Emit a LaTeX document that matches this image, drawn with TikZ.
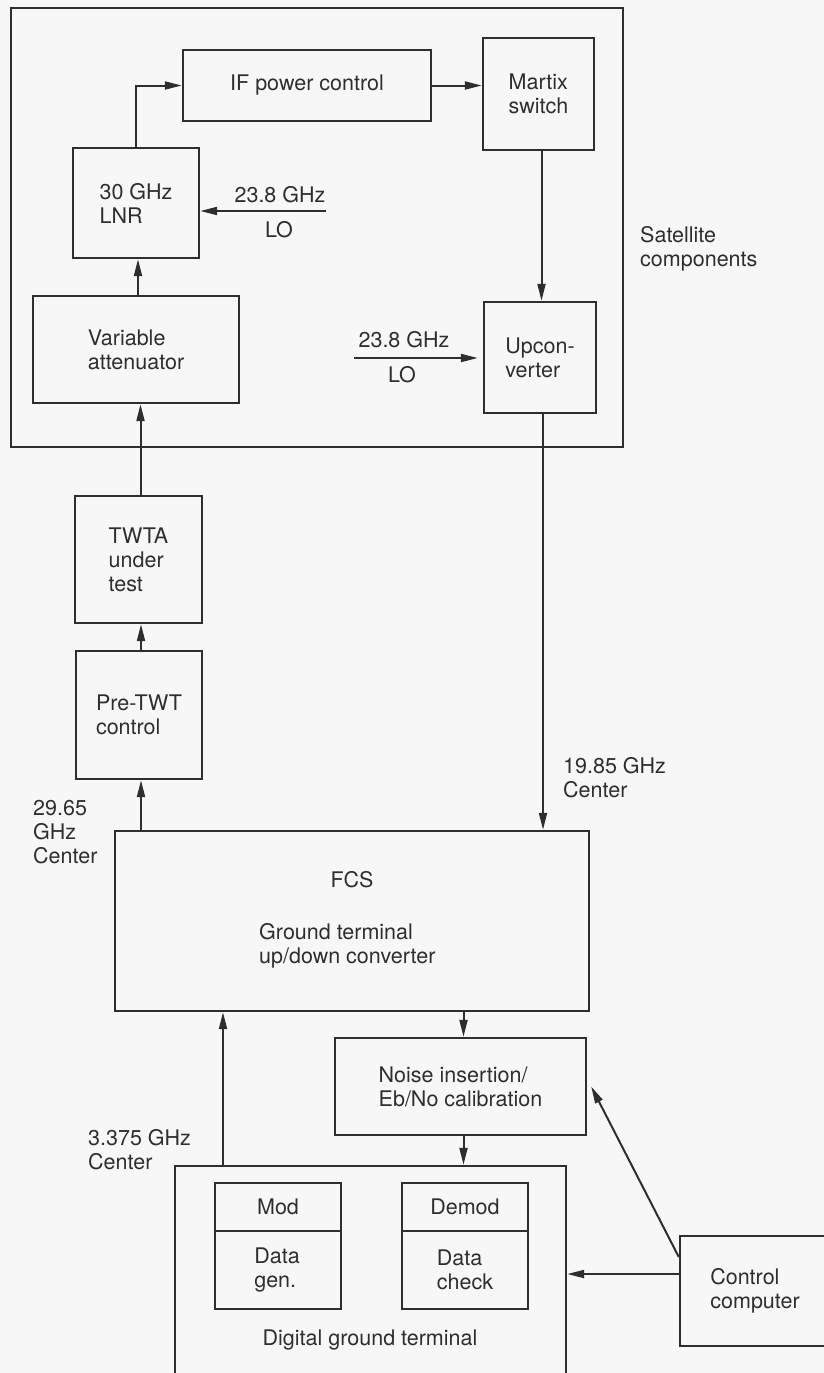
\documentclass[tikz,border=0pt]{standalone}
\usepackage{fontspec}
\setmainfont{TeX Gyre Heros}
\usepackage{tikz}
\usetikzlibrary{arrows.meta}
\definecolor{inkgray}{HTML}{2E2E2E}
\definecolor{pagebg}{HTML}{F7F7F7}
\tikzset{
  blockbox/.style={draw=inkgray,line width=2.4pt,align=left,inner sep=0pt},
  plainlabel/.style={text=inkgray,align=left,inner sep=0pt},
  sigarrow/.style={-{Triangle[length=17pt,width=8pt]},draw=inkgray,line width=2pt},
  sigline/.style={draw=inkgray,line width=2pt}
}
\begin{document}
\begin{tikzpicture}[x=1pt,y=-1pt,
  every node/.append style={font=\fontsize{21.5}{24}\selectfont,text=inkgray}]
  \fill[pagebg] (0,0) rectangle (824,1373);
  \useasboundingbox (0,0) rectangle (824,1373);
  % satellite part
  \node[blockbox,minimum width=612,minimum height=439] (sat) at (317,227.5) {};
  \node[blockbox,minimum width=248,minimum height=71] (ifpower) at (307,85.5) {IF power control};
  \node[blockbox,minimum width=111,minimum height=112] (matrixsw) at (538.5,94) {Martix\\switch};
  \node[blockbox,minimum width=126,minimum height=110] (lnr) at (136,203) {30 GHz\\LNR};
  \node[blockbox,minimum width=206,minimum height=107] (varatt) at (136,349.5) {Variable\\attenuator};
  \node[blockbox,minimum width=112,minimum height=111] (upconv) at (540,357.5) {Upcon-\\verter};
  \node[plainlabel,anchor=west] (satlabel) at (640,249) {Satellite\\components};
  % LO inputs
  \coordinate (loone) at (326,211);
  \coordinate (lotwo) at (354,358);
  \node[plainlabel] (loonef) at (280,195) {23.8 GHz};
  \node[plainlabel] (lonel) at (279,230) {LO};
  \node[plainlabel] (lotwof) at (404,340) {23.8 GHz};
  \node[plainlabel] (lotwol) at (402,375) {LO};
  % ground part
  \node[blockbox,minimum width=127,minimum height=127] (twta) at (138.5,559.5) {TWTA\\under\\test};
  \node[blockbox,minimum width=126,minimum height=128] (pretwt) at (139,715) {Pre-TWT\\control};
  \node[blockbox,minimum width=474,minimum height=180] (fcs) at (352,921) {};
  \node[plainlabel] (fcsname) at (352,880) {FCS};
  \node[plainlabel,anchor=west] (fcsdesc) at (259,946) {Ground terminal\\up/down converter};
  \node[blockbox,minimum width=251,minimum height=97] (noise) at (460.5,1086.5) {Noise insertion/\\Eb/No calibration};
  \node[blockbox,minimum width=391,minimum height=224] (dgt) at (370.5,1278) {};
  \node[plainlabel] (dgtname) at (370,1340) {Digital ground terminal};
  \node[blockbox,minimum width=126,minimum height=126] (modgen) at (278,1246) {};
  \node[blockbox,minimum width=126,minimum height=126] (demodchk) at (465,1246) {};
  \draw[blockbox] (modgen.west |- 0,1231) -- (modgen.east |- 0,1231);
  \draw[blockbox] (demodchk.west |- 0,1231) -- (demodchk.east |- 0,1231);
  \node[plainlabel] (modname) at (278,1207) {Mod};
  \node[plainlabel] (modtext) at (277,1270) {Data\\gen.};
  \node[plainlabel] (demodname) at (465,1207) {Demod};
  \node[plainlabel] (demodtext) at (465,1270) {Data\\check};
  \node[blockbox,minimum width=150,minimum height=110] (ctrlpc) at (755,1291) {Control\\computer};
  % frequency labels
  \node[plainlabel,anchor=west] (frequp) at (33,832) {29.65\\GHz\\Center};
  \node[plainlabel,anchor=west] (freqdown) at (563,778) {19.85 GHz\\Center};
  \node[plainlabel,anchor=west] (freqif) at (88,1150) {3.375 GHz\\Center};
  % connectors
  \coordinate (fcsin) at (223,1166);
  \coordinate (ctrlout) at ([yshift=17pt]ctrlpc.west);
  \coordinate (ctrlup) at ([yshift=34pt]ctrlpc.west);
  \draw[sigarrow] (lnr.north) |- (ifpower.west);
  \draw[sigarrow] (ifpower.east) -- (ifpower.east -| matrixsw.west);
  \draw[sigarrow] ([xshift=3pt]matrixsw.south) -- ([xshift=3pt]matrixsw.south |- upconv.north);
  \draw[sigarrow] (loone) -- (loone -| lnr.east);
  \draw[sigarrow] (lotwo) -- ([xshift=-5pt]lotwo -| upconv.west);
  \foreach \a/\b in {varatt/lnr,twta/varatt,pretwt/twta}
    \draw[sigarrow] ([xshift=2pt]\a.north) -- ([xshift=2pt]\a.north |- \b.south);
  \draw[sigarrow] ([xshift=2pt]pretwt.south |- fcs.north) -- ([xshift=2pt]pretwt.south);
  \draw[sigarrow] ([xshift=3pt]upconv.south) -- ([xshift=3pt]upconv.south |- fcs.north);
  \draw[sigarrow] ([xshift=3pt]noise.north |- fcs.south) -- ([xshift=3pt]noise.north);
  \draw[sigarrow] ([xshift=3pt]noise.south) -- ([xshift=3pt]noise.south |- dgt.north);
  \draw[sigarrow] (fcsin) -- (fcsin |- fcs.south);
  \draw[sigarrow] (ctrlout) -- (ctrlout -| dgt.east);
  \draw[sigarrow] (ctrlup) -- ([xshift=4pt]noise.east);
\end{tikzpicture}
\end{document}
